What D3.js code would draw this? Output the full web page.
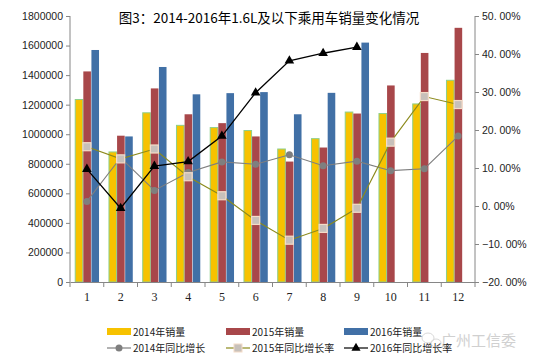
<!DOCTYPE html>
<html><head><meta charset="utf-8">
<script src="https://cdn.jsdelivr.net/npm/d3@7/dist/d3.min.js"></script>
<style>body{margin:0;background:#fff}svg{display:block}</style>
</head><body>
<svg id="c" width="538" height="364"></svg>
<script>
const months = ["1","2","3","4","5","6","7","8","9","10","11","12"];
const sales2014 = [1235000, 880000, 1145000, 1060000, 1045000, 1025000, 900000, 970000, 1150000, 1140000, 1205000, 1365000];
const sales2015 = [1425000, 990000, 1310000, 1135000, 1075000, 985000, 815000, 910000, 1140000, 1330000, 1550000, 1720000];
const sales2016 = [1570000, 985000, 1455000, 1270000, 1278000, 1285000, 1135000, 1280000, 1620000, null, null, null];
const growth2014 = [1.2, 12.7, 4.1, 8.8, 11.6, 11.0, 13.5, 10.6, 11.8, 9.3, 9.8, 18.4];
const growth2015 = [15.6, 12.4, 15.0, 7.7, 2.7, -3.8, -9.0, -5.9, -0.6, 16.8, 28.8, 26.7];
const growth2016 = [9.7, -0.6, 10.5, 11.7, 18.4, 29.8, 38.2, 40.2, 41.8, null, null, null];
const leftTicks = [0,200000,400000,600000,800000,1000000,1200000,1400000,1600000,1800000];
const rightTicks = [-20,-10,0,10,20,30,40,50];
const title = "图3：2014-2016年1.6L及以下乘用车销量变化情况";
const barNames = ["2014年销量","2015年销量","2016年销量"];
const lineNames = ["2014年同比增长","2015年同比增长率","2016年同比增长率"];

const barColors = ["#F7C200","#A8474A","#4170A6"];
const lineColors = ["#7F7F7F","#8C8A1C","#000000"];

const svg = d3.select("#c");
const L = 70, R = 475, T = 16, B = 282;
const x = d3.scaleBand().domain(months).range([L, R]).padding(0);
const yL = d3.scaleLinear().domain([0, 1800000]).range([B, T]);
const yR = d3.scaleLinear().domain([-20, 50]).range([B, T]);
const gw = x.bandwidth() * 0.72;
const xs = d3.scaleBand().domain([0,1,2]).range([0, gw]);
const off = (x.bandwidth() - gw) / 2;

// title
svg.append("text").attr("x", 269).attr("y", 23).attr("text-anchor","middle")
  .attr("font-family","'Noto Sans CJK SC', sans-serif").attr("font-size","13.5px").attr("fill","#000")
  .text(title);

// bars
const series = [sales2014, sales2015, sales2016];
series.forEach((s, si) => {
  svg.append("g").selectAll("rect").data(s.map((v,i)=>({v, m: months[i]})).filter(d=>d.v!=null))
    .join("rect")
    .attr("x", d => x(d.m) + off + xs(si) + 0.5)
    .attr("width", xs.bandwidth() - 0.5)
    .attr("y", d => yL(d.v))
    .attr("height", d => B - yL(d.v))
    .attr("fill", barColors[si])
    .attr("stroke", si === 0 ? "#8DCF8A" : "none")
    .attr("stroke-width", si === 0 ? 1 : 0);
});

// axes
const axL = d3.axisLeft(yL).tickValues(leftTicks).tickSize(4).tickFormat(d3.format("d"));
const gL = svg.append("g").attr("transform", `translate(${L},0)`).call(axL);
const axR = d3.axisRight(yR).tickValues(rightTicks).tickSize(4).tickFormat(d => d3.format(".2f")(d).replace(".", ". ") + "%");
const gR = svg.append("g").attr("transform", `translate(${R},0)`).call(axR);
const axB = d3.axisBottom(x).tickSize(0).tickPadding(10);
const gB = svg.append("g").attr("transform", `translate(0,${B})`).call(axB);
[gL, gR, gB].forEach(g => {
  g.select(".domain").attr("stroke", "#868686");
  g.selectAll(".tick line").attr("stroke", "#868686");
  g.selectAll("text").attr("fill", "#222").attr("font-family", "'Liberation Sans', Arial, sans-serif").attr("font-size", "10.5px");
});
gL.select(".domain").attr("d", `M-0.5,${T}V${B}`).attr("transform","translate(0.5,0)");
gR.select(".domain").attr("d", `M0,${T}V${B}`);
gB.selectAll("text").attr("font-family","'Liberation Serif', serif").attr("font-size","12px");
// category boundary ticks on x axis
gB.append("g").selectAll("line").data(months.concat(["end"]))
  .join("line")
  .attr("x1", (d,i) => i < months.length ? x(d) : R)
  .attr("x2", (d,i) => i < months.length ? x(d) : R)
  .attr("y1", 0).attr("y2", 5).attr("stroke", "#868686");

// lines
const growths = [growth2014, growth2015, growth2016];
const lineGen = d3.line().defined(d => d.v != null).x(d => x(d.m) + x.bandwidth()/2).y(d => yR(d.v));
growths.forEach((g, gi) => {
  const data = g.map((v,i)=>({v, m: months[i]}));
  svg.append("path").datum(data).attr("d", lineGen).attr("fill","none")
    .attr("stroke", lineColors[gi]).attr("stroke-width", gi === 2 ? 1.3 : 1.1);
  const pts = data.filter(d => d.v != null);
  const mg = svg.append("g");
  if (gi === 0) {
    mg.selectAll("circle").data(pts).join("circle")
      .attr("cx", d => x(d.m) + x.bandwidth()/2).attr("cy", d => yR(d.v)).attr("r", 3.5)
      .attr("fill", "#7F7F7F");
  } else if (gi === 1) {
    mg.selectAll("rect").data(pts).join("rect")
      .attr("x", d => x(d.m) + x.bandwidth()/2 - 4).attr("y", d => yR(d.v) - 4)
      .attr("width", 8).attr("height", 8)
      .attr("fill", "#C7C0BA").attr("stroke", "#F4DCC8").attr("stroke-width", 1.2);
  } else {
    mg.selectAll("path").data(pts).join("path")
      .attr("d", d3.symbol(d3.symbolTriangle, 40))
      .attr("transform", d => `translate(${x(d.m) + x.bandwidth()/2},${yR(d.v)})`)
      .attr("fill", "#000");
  }
});

// legend
const lgX = [107, 226, 344];
const lg = svg.append("g").attr("font-family","'Noto Sans CJK SC', sans-serif").attr("font-size","10px").attr("fill","#222");
barNames.forEach((n,i) => {
  lg.append("rect").attr("x", lgX[i]).attr("y", 328).attr("width", 24).attr("height", 7).attr("fill", barColors[i]);
  lg.append("text").attr("x", lgX[i] + 26).attr("y", 335.5).text(n);
});
lineNames.forEach((n,i) => {
  const yy = 348;
  lg.append("line").attr("x1", lgX[i]).attr("x2", lgX[i] + 24).attr("y1", yy).attr("y2", yy)
    .attr("stroke", lineColors[i]).attr("stroke-width", 1.2);
  if (i === 0) lg.append("circle").attr("cx", lgX[i]+12).attr("cy", yy).attr("r", 3.5).attr("fill", "#7F7F7F");
  else if (i === 1) lg.append("rect").attr("x", lgX[i]+8).attr("y", yy-4).attr("width", 8).attr("height", 8).attr("fill", "#C7C0BA").attr("stroke","#F4DCC8");
  else lg.append("path").attr("d", d3.symbol(d3.symbolTriangle, 36)).attr("transform", `translate(${lgX[i]+12},${yy})`).attr("fill","#000");
  lg.append("text").attr("x", lgX[i] + 26).attr("y", yy + 4).text(n);
});

// watermark
const wm = svg.append("g").attr("opacity", 0.55);
wm.append("ellipse").attr("cx", 428).attr("cy", 338).attr("rx", 6).attr("ry", 5).attr("fill","none").attr("stroke","#bbb");
wm.append("ellipse").attr("cx", 436).attr("cy", 343).attr("rx", 5).attr("ry", 4).attr("fill","none").attr("stroke","#bbb");
wm.append("text").attr("x", 441).attr("y", 346).attr("font-family","'Noto Sans CJK SC', sans-serif")
  .attr("font-size","15px").attr("fill","#aaa").text("广州工信委");
</script>
</body></html>
